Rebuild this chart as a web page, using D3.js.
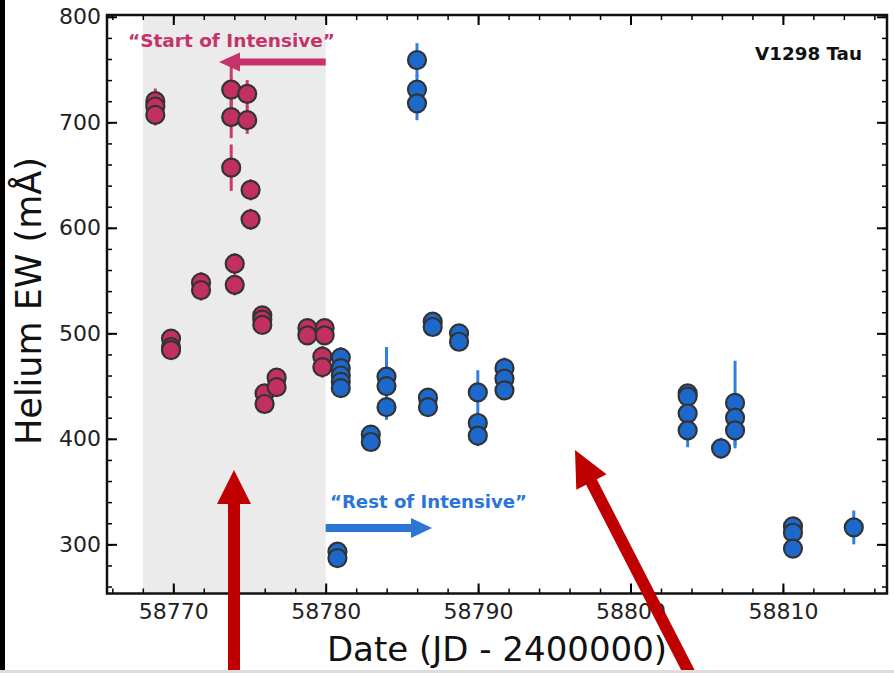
<!DOCTYPE html>
<html>
<head>
<meta charset="utf-8">
<script src="https://cdn.jsdelivr.net/npm/d3@7/dist/d3.min.js"></script>
<style>
  body { margin: 0; background: #fff; }
  svg { display: block; }
</style>
</head>
<body>
<svg id="chart" width="894" height="673"></svg>
<script>
// "Start of Intensive" epochs
const pinkDate = [58768.82, 58768.82, 58768.82, 58769.85, 58769.85, 58769.85, 58771.82, 58771.82,
  58773.80, 58773.80, 58773.80, 58774.03, 58774.03, 58774.85, 58774.85, 58775.07, 58775.07,
  58775.84, 58775.84, 58775.84, 58775.99, 58775.99, 58776.78, 58776.78, 58778.80, 58778.80,
  58779.93, 58779.93, 58779.78, 58779.78];
const pinkEW = [720, 715, 707, 495, 487, 484, 548, 541,
  731, 705, 657, 566, 546, 727, 702, 636, 608,
  517, 513, 508, 443, 433, 458, 449, 505, 498,
  505, 498, 478, 468];
const pinkErr = [12, 10, 10, 8, 8, 8, 10, 10,
  22, 20, 22, 10, 10, 13, 13, 10, 10,
  8, 8, 8, 8, 8, 8, 8, 8, 8,
  8, 8, 10, 10];

// "Rest of Intensive" epochs
const blueDate = [58780.99, 58780.99, 58780.99, 58780.99, 58780.99, 58780.77, 58780.77,
  58782.96, 58782.96, 58783.99, 58783.99, 58783.99, 58785.99, 58785.99, 58785.99,
  58786.71, 58786.71, 58787.02, 58787.02, 58788.75, 58788.75, 58789.98, 58789.98, 58789.98,
  58791.73, 58791.73, 58791.73, 58803.75, 58803.75, 58803.75, 58803.75, 58805.94,
  58806.86, 58806.86, 58806.86, 58810.66, 58810.66, 58810.66, 58814.65];
const blueEW = [477, 467, 460, 454, 448, 293, 287,
  404, 397, 459, 450, 430, 759, 731, 718,
  439, 430, 511, 506, 500, 492, 444, 415, 403,
  467, 457, 446, 443, 440, 424, 408, 391,
  434, 420, 408, 317, 311, 296, 316];
const blueErr = [10, 8, 8, 8, 8, 8, 8,
  8, 8, 28, 12, 12, 16, 14, 16,
  8, 8, 8, 8, 8, 8, 21, 10, 10,
  10, 8, 8, 8, 8, 10, 16, 10,
  40, 12, 17, 8, 8, 8, 16];

const shadeRange = [58768, 58780];
const xTicks = [58770, 58780, 58790, 58800, 58810];
const yTicks = [300, 400, 500, 600, 700, 800];

const margin = { left: 107, right: 7, top: 15, bottom: 79.5 };
const W = 894, H = 673;
const svg = d3.select("#chart");

const x = d3.scaleLinear().domain([58765.65, 58816.83]).range([margin.left, W - margin.right]);
const y = d3.scaleLinear().domain([253.4, 801.7]).range([H - margin.bottom, margin.top]);

// shaded interval
svg.append("rect")
  .attr("x", x(shadeRange[0]))
  .attr("y", margin.top)
  .attr("width", x(shadeRange[1]) - x(shadeRange[0]))
  .attr("height", y.range()[0] - margin.top)
  .attr("fill", "#ebebeb");

function drawSeries(dates, ews, errs, fill, errColor) {
  const pts = dates.map((d, i) => ({ d: d, v: ews[i], e: errs[i] }));
  svg.append("g").selectAll("line").data(pts).join("line")
    .attr("x1", p => x(p.d)).attr("x2", p => x(p.d))
    .attr("y1", p => y(p.v - p.e)).attr("y2", p => y(p.v + p.e))
    .attr("stroke", errColor).attr("stroke-width", 3);
  svg.append("g").selectAll("circle").data(pts).join("circle")
    .attr("cx", p => x(p.d)).attr("cy", p => y(p.v)).attr("r", 9)
    .attr("fill", fill).attr("stroke", "#333").attr("stroke-width", 2.2);
}
drawSeries(pinkDate, pinkEW, pinkErr, "#c1305e", "#cc3a6a");
drawSeries(blueDate, blueEW, blueErr, "#1d69cb", "#2f80e0");

// axes, ticks inward on all sides
const xMinor = d3.range(58766, 58817, 2);
const yMinor = d3.range(260, 801, 20);
const font = "DejaVu Sans, sans-serif";

function styleAxis(g) {
  g.select(".domain").remove();
  g.selectAll(".tick line").attr("stroke", "#000");
  g.selectAll("text").attr("font-family", font).attr("font-size", 22).attr("fill", "#222");
}

const bottomY = y.range()[0], topY = margin.top;
const leftX = margin.left, rightX = W - margin.right;

svg.append("g").attr("transform", `translate(0,${bottomY})`)
  .call(d3.axisBottom(x).tickValues(xMinor).tickSize(-5).tickFormat(""))
  .call(styleAxis).selectAll(".tick line").attr("stroke-width", 1.5);
svg.append("g").attr("transform", `translate(0,${bottomY})`)
  .call(d3.axisBottom(x).tickValues(xTicks).tickSize(-10).tickFormat(d3.format("d")))
  .call(styleAxis).call(g => g.selectAll(".tick line").attr("stroke-width", 2))
  .call(g => g.selectAll("text").attr("dy", "0.71em").attr("y", 10));
svg.append("g").attr("transform", `translate(0,${topY})`)
  .call(d3.axisTop(x).tickValues(xMinor).tickSize(-5).tickFormat(""))
  .call(styleAxis).selectAll(".tick line").attr("stroke-width", 1.5);
svg.append("g").attr("transform", `translate(0,${topY})`)
  .call(d3.axisTop(x).tickValues(xTicks).tickSize(-10).tickFormat(""))
  .call(styleAxis).selectAll(".tick line").attr("stroke-width", 2);

svg.append("g").attr("transform", `translate(${leftX},0)`)
  .call(d3.axisLeft(y).tickValues(yMinor).tickSize(-5).tickFormat(""))
  .call(styleAxis).selectAll(".tick line").attr("stroke-width", 1.5);
svg.append("g").attr("transform", `translate(${leftX},0)`)
  .call(d3.axisLeft(y).tickValues(yTicks).tickSize(-10).tickFormat(d3.format("d")))
  .call(styleAxis).call(g => g.selectAll(".tick line").attr("stroke-width", 2))
  .call(g => g.selectAll("text").attr("x", -6));
svg.append("g").attr("transform", `translate(${rightX},0)`)
  .call(d3.axisRight(y).tickValues(yMinor).tickSize(-5).tickFormat(""))
  .call(styleAxis).selectAll(".tick line").attr("stroke-width", 1.5);
svg.append("g").attr("transform", `translate(${rightX},0)`)
  .call(d3.axisRight(y).tickValues(yTicks).tickSize(-10).tickFormat(""))
  .call(styleAxis).selectAll(".tick line").attr("stroke-width", 2);

// frame
svg.append("rect")
  .attr("x", leftX).attr("y", topY)
  .attr("width", rightX - leftX).attr("height", bottomY - topY)
  .attr("fill", "none").attr("stroke", "#111").attr("stroke-width", 2.5);

// axis titles
svg.append("text")
  .attr("x", (leftX + rightX) / 2).attr("y", 661)
  .attr("text-anchor", "middle").attr("font-family", font).attr("font-size", 34).attr("fill", "#111")
  .text("Date (JD - 2400000)");
svg.append("text")
  .attr("transform", "translate(41,301) rotate(-90)")
  .attr("text-anchor", "middle").attr("font-family", font).attr("font-size", 35).attr("fill", "#111")
  .text("Helium EW (mÅ)");

// annotations
const annFont = "'Comic Sans MS', 'DejaVu Sans', sans-serif";
svg.append("text")
  .attr("x", 128).attr("y", 47).attr("font-family", annFont).attr("font-size", 17).attr("font-weight", "bold")
  .attr("fill", "#c5336a").attr("textLength", 207).attr("lengthAdjust", "spacingAndGlyphs")
  .text("“Start of Intensive”");
svg.append("text")
  .attr("x", 330).attr("y", 508).attr("font-family", annFont).attr("font-size", 17).attr("font-weight", "bold")
  .attr("fill", "#2a76d6").attr("textLength", 197).attr("lengthAdjust", "spacingAndGlyphs")
  .text("“Rest of Intensive”");
svg.append("text")
  .attr("x", 755).attr("y", 60).attr("font-family", annFont).attr("font-size", 18).attr("font-weight", "bold")
  .attr("fill", "#111").attr("textLength", 107).attr("lengthAdjust", "spacingAndGlyphs")
  .text("V1298 Tau");

function arrow(x0, y0, x1, y1, shaft, headW, headL, color) {
  const ang = Math.atan2(y1 - y0, x1 - x0);
  const len = Math.hypot(x1 - x0, y1 - y0);
  const g = svg.append("g").attr("transform", `translate(${x0},${y0}) rotate(${ang * 180 / Math.PI})`);
  g.append("path")
    .attr("d", `M0,${-shaft / 2}L${len - headL},${-shaft / 2}L${len - headL},${-headW / 2}L${len},0` +
      `L${len - headL},${headW / 2}L${len - headL},${shaft / 2}L0,${shaft / 2}Z`)
    .attr("fill", color);
}
arrow(x(58780), 62, 219, 62, 7, 19, 21, "#c5336a");
arrow(x(58780), 528, 432, 528, 8, 20, 21, "#2a76d6");

// big red pointer arrows
arrow(234, 680, 234, 470, 12, 34, 34, "#c00000");
arrow(693, 680, 575, 450, 12, 34, 36, "#c00000");

// page edges
svg.append("rect").attr("x", 0).attr("y", 0).attr("width", 5).attr("height", H).attr("fill", "#000");
svg.append("rect").attr("x", 0).attr("y", 670).attr("width", W).attr("height", 3).attr("fill", "#ddd");
</script>
</body>
</html>
